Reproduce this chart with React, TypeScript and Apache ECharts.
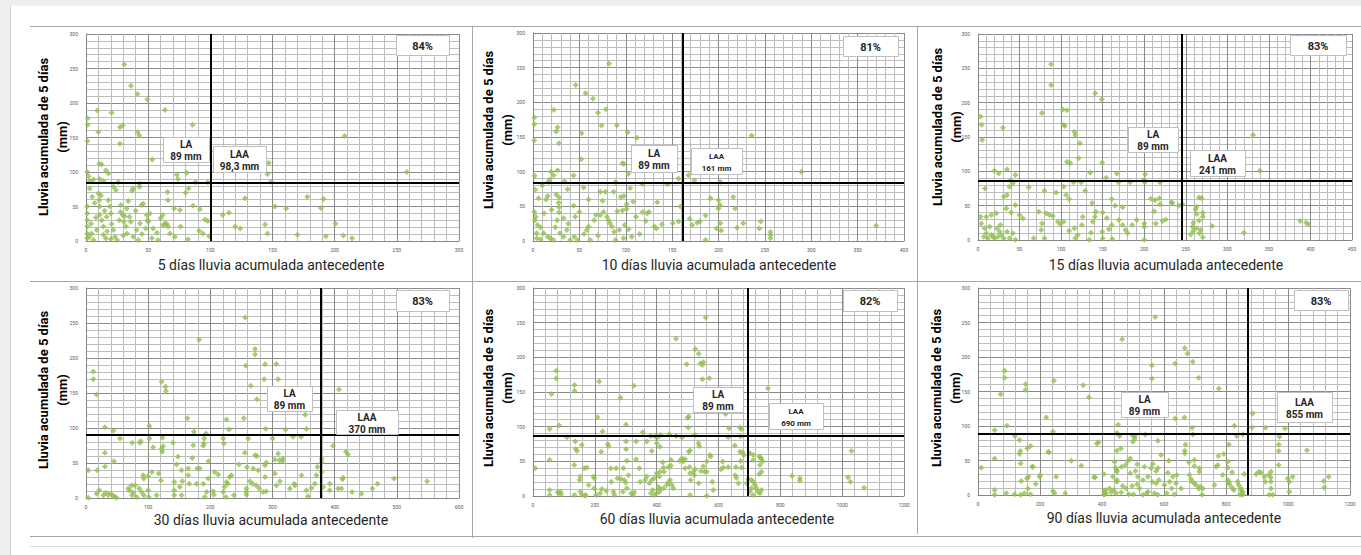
import React, { useEffect, useRef } from "react";
import * as echarts from "echarts";

// ---------- data ----------
const xTitles = [
  "5 días lluvia acumulada antecedente",
  "10 días lluvia acumulada antecedente",
  "15 días lluvia acumulada antecedente",
  "30 días lluvia acumulada antecedente",
  "60 días lluvia acumulada antecedente",
  "90 días lluvia acumulada antecedente",
];
const yTitle = "Lluvia acumulada de 5 días\n(mm)";
const percentLabels = ["84%", "81%", "83%", "83%", "82%", "83%"];
const laLabel = "LA\n89 mm";
const laaLabels = ["LAA\n98,3 mm", "LAA\n161 mm", "LAA\n241 mm", "LAA\n370 mm", "LAA\n690 mm", "LAA\n855 mm"];
const xMax = [300, 400, 450, 600, 1200, 1200];
const xStep = [50, 50, 50, 100, 200, 200];
const yMax = 300;
const yStep = 50;
const vLineAt = [100, 161, 245, 377, 693, 871];
const hLineAt = [84, 84, 86, 90, 87, 89];

const p1 = [[30.8,255.7],[36.2,225],[41.3,213],[49.3,205],[63.5,190],[9.1,189],[20.6,186],[1.3,178],[1.3,168.5],[27.3,165],[29.5,167.5],[41.5,158],[42.9,153],[9.9,158],[85.7,168.5],[1.1,145],[27.3,141],[53.3,118],[208,152],[258,100],[147,113],[146,97],[149,86],[10.7,112],[12.6,111],[16,102.5],[18,98],[1,100],[2,94],[6,89],[14,87],[22,78.5],[26,85],[37,73],[38,76],[43,78.5],[43,83],[73,96],[81,99],[74,90],[88,85],[98,85],[82.5,76],[80,70],[65.6,71],[66,59],[71,47],[86,51],[91.6,46],[76,21],[91,15],[94,11],[82,2.4],[95.6,31],[98,29],[99,7],[128,62],[110,37.6],[115,41],[120,21],[124,18],[144,24],[146,11],[152,50],[161,47],[170,9],[178,64],[191,61],[189,48],[193,7],[200.6,25],[207,8],[214,4],[1,50],[1,40],[1,30],[1,21],[1,11],[1,4],[2.7,6],[4.5,11],[6,1.5],[8.6,16],[10,69],[10.7,59],[11,50],[11,38],[12.6,30],[14,21],[14,9],[16,4],[16.6,35],[18,59],[19,50],[20.6,24.5],[22,16],[23.3,6],[25,1.5],[26.8,30],[27.9,42],[29.5,37.6],[30.5,28],[32,21],[33,11],[35,35],[38,6],[40.7,16],[42,1.5],[43.4,25.5],[44.7,52],[46,54],[48,18],[49.6,30],[51.4,40],[53,4],[54,18],[58,1.5],[61.6,37.6],[62,23],[63.5,25.5],[65,24.5],[66,21],[67.5,11],[75.5,45],[71.5,6],[48.8,37.6],[32.7,47],[24,74],[3,76],[5,64],[7,55],[12,66],[15,44],[20,40],[28,52],[34,58],[36,28],[4,25],[8,34],[17,14],[30,8],[45,10],[57,12],[60,33],[20,3],[11,90],[3,87],[40,44],[50,28],[31,36]];

const p2 = [[82,255.7],[46,225],[56.7,213],[64.6,205],[70,185],[78.6,190],[22.6,189],[1.4,178],[1.4,168.5],[73.9,166.6],[90.4,167],[26.5,164],[25,158],[52.4,155.5],[102,157],[112,149],[28,141],[1.4,145],[52,118],[235.7,152],[289.5,100],[96.5,112],[98,111],[103,97],[19.4,100],[22.2,95],[26.5,102],[1.8,94],[43.8,94.4],[16.5,85],[18,89],[156.8,90],[167.6,95],[174,87.6],[202,85],[145,82],[89,85],[118,82],[54.5,77],[37.3,74.6],[2.5,74],[16,65],[25,67],[28,63],[72.5,71],[78,71],[87,71],[94.7,63.5],[98,65],[104.7,76],[6,61.6],[27.6,55],[28,48.6],[28,41],[43.8,51],[75,58],[101,53],[108,57],[134,56],[118,42],[123,40],[125,42],[121.6,29],[131,21],[133,18],[139,24],[150.7,25.5],[159,49.6],[157,28],[169,32],[171.5,23],[177,26.5],[180,28],[186,36.6],[191.5,61.6],[200,59],[200,47],[201.6,52],[202,25.5],[198,18],[203,15],[216,63.5],[218,47],[220,19],[226.7,25.5],[244,18],[245.6,28],[256,13],[256,8.7],[256,3.9],[370,22],[186,1.4],[1.4,42],[3,35],[5,23],[4,11],[4,4],[8,2.4],[11.5,11],[16,6],[18.6,4],[22,1.4],[29,11],[33,6],[36.6,16],[40,1.4],[44.5,6],[48,1.4],[26,30],[33,32.7],[45.5,35],[50,42],[58,16],[60,21],[61.7,1.4],[66,30],[68,37.6],[72.5,37.6],[76,42],[79.6,35],[81.4,30],[83,25.5],[85,21],[87.5,13.5],[89,1.4],[93,16],[97.6,3.9],[99,23],[103,17],[106.5,6],[111,35],[91,43],[96.5,44],[101,46],[2,30],[8,20],[12,40],[20,45],[24,20],[10,80],[14,60],[38,25],[55,10],[70,8],[115,10],[60,60],[34,86]];

const p3 = [[88,256],[88,225.7],[141,213.6],[149,205],[77,185],[102,190],[107,189],[3,180],[4.4,168],[30,163.6],[103,168],[104.6,166],[116,157.7],[117,153],[5,145.6],[122.6,140.8],[121,119],[331,153],[339,101],[107,114],[111,111.6],[149.5,113],[135,98],[154,90.8],[167,97],[201,95.6],[19.6,101],[25,97],[35,103],[45,94.7],[8.4,75],[39,87],[42,82.5],[38,77.7],[35,65.5],[31,63],[61,76.7],[80,71.8],[94,69],[103,77.7],[106,65.5],[109.6,59.7],[115,84],[124,84],[129,71.8],[169,84],[183,84],[200.6,84],[219,84],[200,88],[137.4,54],[161,59.7],[165,50],[174,47.6],[213,58],[218,60.7],[219,52],[233.6,54],[241.6,50],[266,62],[269,60.7],[261.7,44.7],[263,48.5],[270.5,39.8],[270.5,34],[258,19.4],[263,17],[259,13],[266.5,9.7],[270.5,3.9],[281.7,20.4],[319.8,10.7],[387.5,27.7],[394.7,25],[397.5,22.8],[222,27.7],[214,24],[200,24],[200,19.4],[200,0.5],[191,29],[185.5,21.8],[169.5,29],[161,21.8],[157.5,15.5],[149.5,12],[150,2.4],[161.5,1.5],[177.5,14.6],[180,9.7],[136,10.7],[134,0.5],[138,26.7],[140.6,34],[142,41],[126,34],[125,21.8],[116,17],[120,7.3],[117,2.4],[109.6,13.6],[103,26.7],[99,23.3],[96,26.7],[90,35],[86,36.4],[82,38.8],[77,24],[76,14.6],[80,2.4],[73,41],[67,2.4],[54,31.5],[50,36.4],[45,51],[34,46],[22,38.8],[16,36.4],[10,34],[3,34],[4,24],[8,17],[10,9.7],[12,2.4],[16,7.3],[20,2.4],[24,4.9],[28,7.3],[31,2.4],[35,12],[38,2.4],[42,9.7],[45,0.5],[27,21.8],[23,17],[14,19.4],[7,4.9],[263,38],[266,28],[259,25],[268,15],[256,8],[246,52],[226,30],[233,55],[150,40],[155,32],[174,22],[208,60],[212,42],[40,40],[18,5],[26,12]];

const p4 = [[256,258],[182,226],[272,213],[272,205],[257,189],[288,191],[306,191.5],[11.8,180.6],[11.8,169.6],[17,148],[121.6,166],[128,159],[128.6,153],[265,160.5],[286.5,169.6],[309,169.6],[275,141],[407,155],[352.5,119],[254,114],[163,114],[226,112],[102,103],[30.5,101],[44,96],[123,86],[102,85],[190,85],[193,92],[173.6,94.6],[230,98],[289,99],[321,98],[354.6,98.4],[261,85],[300,85],[333,87.4],[346,87.4],[220.7,85],[221.8,78],[188.6,74.5],[189.6,78],[172.5,75.5],[108,72.6],[86.8,78.8],[88,81],[74.5,78.8],[54.6,85],[124,74],[122.7,66],[121.6,70],[140,78.8],[397.5,74.5],[418,66],[421.5,62],[309,63.5],[311,54],[316.7,56],[316,52.5],[303.7,55],[272,61],[275,60],[269,42],[277,39.6],[290,50.6],[288,46.8],[255.5,64.5],[259,44],[246,47.8],[197,52.5],[171,57],[148,58.8],[30.5,64.5],[45,52.5],[30.5,45],[3.7,39.6],[18,39.6],[145.7,47.8],[153.7,39.6],[164.5,42],[179,42],[183,42],[207,37],[212.6,33.4],[231,30],[164.5,32.5],[196.6,27.7],[188.6,20.5],[177.8,20.5],[166,20.5],[155,24],[151,15.8],[142,23],[142,11],[142,3.8],[153.7,3.8],[120.5,25],[116.8,35],[106,37],[100,31],[92,32.5],[93,27.7],[85.7,13.4],[78.7,18],[76,7.6],[70,11],[74,3.8],[89.5,8.6],[93,3.8],[100,11],[101,1.4],[113.6,3.8],[191,1.4],[194,8.6],[204.6,9.6],[205.7,4.8],[220.7,8.6],[223,15.8],[226,23],[228,20.5],[234,32.5],[238,3.8],[225,1.4],[258,13.4],[258,8.6],[258,4.8],[263.6,24],[268,20.5],[274,18],[278.6,13.4],[285,8.6],[290,9.6],[288,30],[303.7,35],[306.4,18],[312,24],[328,13.4],[335,20.5],[336,18],[346.6,32.5],[354.6,11],[357,2.4],[362.7,14.3],[368,20.5],[370.7,32.5],[372.4,44.4],[379,56],[379,51.6],[379,37],[381.4,15.8],[392,11],[392,20.5],[405.5,13.4],[411,13.4],[413.6,29],[412.5,26.8],[428,8.6],[443,6.2],[460.7,13.4],[468.7,20.5],[495.5,27.7],[548.6,24],[3.7,0.5],[17,6],[21.4,11],[28,3.8],[32,7.6],[36,3.8],[40,6],[44,2.9],[49,0.5],[68,13.4],[73.4,18],[81.4,1.4],[46.6,1.4]];

const p5 = [[558.6,257.6],[462.8,226.8],[525,212],[536,205],[547.8,189],[542,191.6],[551,193],[497,190],[570,170],[548,168.5],[75.3,180.6],[75.3,170],[60,147],[134.5,160],[134.5,151.7],[214,165],[326,159],[283,141.6],[760,155.5],[623,118.4],[503.7,114.6],[500,113],[208.8,113.6],[301,103],[53.8,96.8],[85,101.6],[502.6,98.7],[634,97.7],[669.4,98.7],[673.7,96.8],[225,93],[355,92],[413,88],[441,89],[463,86.7],[482,84.3],[524,88],[631.6,84.7],[671.6,85.7],[136.7,78.5],[110,84.7],[158,73.7],[138,67.9],[142.5,65],[220.6,64],[242,75],[301,78.5],[301,67.4],[333.6,78.5],[368,78.5],[381,86.7],[395,85.7],[403.6,84.7],[384,65],[400,76],[410.5,71],[244,72],[535,76],[538,72],[572.5,59],[574.6,56.8],[503.7,64],[508,65.5],[446.6,52],[482,54.4],[475,51],[613.4,49.6],[653,72.7],[671.6,50.5],[674.8,41],[669.4,64],[678,62.6],[682,59],[701.7,61.6],[712.4,59],[712.4,52],[731.8,56.8],[736,55.4],[739,53],[734,44.8],[742.5,49.6],[739,35],[731.8,31.8],[1030,65],[1019,27],[1026.7,20.7],[1071,12],[838,28.9],[863,25.5],[863,22],[615.5,41],[608,38.5],[631.6,42],[656.5,42],[654,30],[658,26.5],[664,18.3],[691,18.3],[696,24.5],[707,23],[712,20.7],[718,16],[723,11],[728,6.3],[734,3.9],[739,8.7],[701.7,6.3],[707,11],[712,1.4],[580,20.7],[562,35],[555,35],[543,36],[525,38.5],[508,32.7],[518.7,35],[510,23],[536,18.3],[522,30],[492,40],[486,49.6],[492,53],[506,42],[551,43],[562,49.6],[562,0.5],[508,1.4],[454,11],[449,16],[438,19.7],[443.5,23],[432.6,16],[422,11],[411,9.6],[405.7,13.5],[400,3.9],[409,6.3],[393,1.4],[387.4,8.7],[381,3.9],[376.7,18.3],[384,23],[392,25.5],[400,32.7],[409,28],[368,28],[362.7,23],[346.5,20.7],[344,40],[419.7,48.6],[422,41],[411,35],[424,35],[438,42],[446,43.8],[333.6,53],[303.5,51],[292.7,40],[269,40],[252,40],[273,25.5],[284,24.5],[295,23],[300,19.3],[309,30],[303.5,11],[290.6,6.3],[317.5,3.9],[323,1.4],[328,5.3],[253,20.7],[260,6.3],[263.7,1.4],[236.8,7.2],[222.8,10],[217.4,3.9],[204.5,1.4],[198,11],[196,28],[198,25.5],[180,16],[169,0.5],[153,6.3],[150.7,23],[153,28],[133.5,44.8],[165.7,40],[174,41],[170,1.4],[159,1.4],[134.5,1.4],[88,6.3],[84,3.9],[79.6,5.3],[53.8,1.4],[53.8,8.7],[53.8,52],[7.5,40],[91.5,2.4],[583,8.7]];

const p6 = [[571.5,258],[465,225.7],[667,213],[675.7,205],[693,193],[636,190.5],[561,188],[561,168.8],[712,170],[86,180],[86,170],[73,146],[153.6,160.6],[153.6,152],[245,165.4],[339.5,159],[357.7,141.8],[776.7,154.3],[220,112.4],[666,112.4],[636,111],[93.5,100.3],[53.7,94],[452,101.8],[448,90],[456.6,85.4],[827,100.3],[690.8,97.4],[886,118],[884,98],[927,97.4],[990.5,96.5],[241.7,91.6],[506,85.4],[506,82],[499.5,85.8],[540,87.8],[693,87.8],[834.7,85.4],[854,87.8],[972.3,84.4],[119,85.4],[134,79.6],[389,76.2],[383.5,74.8],[499.5,77],[580,78.6],[136.4,63.7],[134,59.3],[159,67.5],[169.7,70.9],[226.7,62.7],[448,64],[460.9,67.5],[669.3,73.3],[667,64],[667,60.3],[793,59.3],[775.6,56.4],[809,73.3],[970,73.3],[970,63.7],[970,43.4],[1061,65],[53.7,53],[137.5,45.8],[175,41],[300.8,49.7],[333,42.4],[406,30.4],[378,25.6],[590.8,57.9],[615.6,49.7],[680,47.3],[698,50.6],[698,42],[714,38.6],[714,33.8],[612.4,32.3],[580,38.6],[574.7,34.7],[558.6,38.6],[537,41],[564,44.9],[513.5,44.4],[491,53],[483.4,49.2],[476,43.4],[463,41],[443.7,39.5],[448,33.8],[448,36.2],[440.5,48.2],[435,26.5],[448,21.7],[448,19.3],[491,31.4],[508,34.7],[515.7,26.5],[532,21.7],[548,26.5],[562,19.3],[574.7,16.9],[583.3,21.7],[601.6,14.5],[617.7,19.3],[628.4,26.5],[639,16.9],[641,28.9],[655.3,9.6],[625,9.6],[633.8,1],[609,2.4],[580,0.5],[548,4.8],[544.6,2.4],[521,9.6],[497.4,13],[513.5,15.4],[478,9.6],[467,13],[462,3.9],[446,2.4],[438,7.2],[430,3.9],[424,9.6],[413.6,2.4],[408,1],[501.7,1],[486.7,1],[532,0.5],[569,2.4],[687.6,23],[682,28.9],[690.8,19.3],[698,16.9],[703.7,14.5],[712,9.6],[716.6,12],[723,0.5],[725,9.6],[762.8,14.5],[768,41],[773.5,43.4],[789.6,28.9],[805.7,48.2],[805.7,39.5],[805.7,21.7],[809,18.3],[811,15.4],[819.7,10.6],[819.7,32.8],[825,7.2],[838,19.3],[841,14.5],[848.7,9.6],[851,5.8],[854,3.9],[854,0.5],[845.5,0.5],[897,30],[906,33.8],[913,32.3],[924,26.5],[927,19.3],[938,28.9],[945,33.8],[945,25],[945,19.3],[945,9.6],[940,0.5],[951,0.5],[999,24],[1004.5,19.3],[1015,26.5],[1004.5,4.8],[1115,20.3],[1117,11],[1131,26.5],[859,30.4],[10.7,39.5],[53.7,0.5],[53.7,7.2],[91.3,2.4],[118,1],[137.5,0.5],[150,2.4],[161,9.6],[168.7,1],[139.7,20.3],[158,24],[163,26.5],[177,41],[198.7,26.5],[201,28.9],[186,16],[228.8,61.7],[241.7,5.8],[247,2.4],[252,26.5],[281.5,2.4],[374,25.6],[406,0.5],[408,4.8],[411,7.2]];

const series = [p1, p2, p3, p4, p5, p6];

// ---------- layout (positions only) ----------
const layout = [
  { grid: [86, 34, 373, 207], yT: [52.5, 137], xT: [271, 265], pct: [396, 35, 53, 20], la: [163, 137, 46, 25], laa: [213, 146, 53, 26], laaFs: 10 },
  { grid: [533, 33, 371, 208], yT: [497.5, 130], xT: [719, 265], pct: [843, 36, 55, 20], la: [631, 145, 46, 27], laa: [691, 148, 51, 26], laaFs: 8 },
  { grid: [978, 34, 374, 206], yT: [947, 127], xT: [1166, 265], pct: [1290, 35, 56, 20], la: [1128, 127, 50, 25], laa: [1190, 150, 55, 26], laaFs: 10 },
  { grid: [86, 288, 373, 210], yT: [52.5, 390], xT: [271, 520], pct: [396, 290, 53, 21], la: [267, 386, 45, 25], laa: [336, 410, 62, 24], laaFs: 10 },
  { grid: [533, 288, 371, 208], yT: [497.5, 388], xT: [717, 519], pct: [843, 290, 54, 21], la: [693, 387, 50, 25], laa: [769, 403, 54, 26], laaFs: 8 },
  { grid: [978, 288, 372, 207], yT: [946, 388], xT: [1164, 518], pct: [1294, 290, 54, 20], la: [1121, 392, 47, 25], laa: [1277, 392, 55, 30], laaFs: 10 },
];

const FONT = "Roboto, 'Open Sans', sans-serif";
const GREEN = "#92bf4f";

function boxEls(r: number[], text: string, fs: number, lh: number) {
  return [
    { type: "rect", shape: { x: r[0] + 0.5, y: r[1] + 0.5, width: r[2], height: r[3] }, style: { fill: "#fff", stroke: "#bfbfbf", lineWidth: 1 }, z: 20 },
    { type: "text", x: r[0] + r[2] / 2, y: r[1] + r[3] / 2 + 1, style: { text: text, fill: "#262626", font: `bold ${fs}px ${FONT}`, align: "center", verticalAlign: "middle", lineHeight: lh }, z: 21 },
  ];
}

export default function App() {
  const ref = useRef<HTMLDivElement>(null);
  useEffect(() => {
    if (!ref.current) return;
    const chart = echarts.init(ref.current, null, { renderer: "svg" });
    const grids: any[] = [];
    const xAxes: any[] = [];
    const yAxes: any[] = [];
    const ser: any[] = [];
    const els: any[] = [
      { type: "rect", shape: { x: 0, y: 0, width: 1361, height: 6 }, style: { fill: "#eeeeee" }, z: 0 },
      { type: "rect", shape: { x: 0, y: 0, width: 10, height: 555 }, style: { fill: "#eeeeee" }, z: 0 },
      { type: "line", shape: { x1: 10.5, y1: 6, x2: 10.5, y2: 555 }, style: { stroke: "#d4d4d4", lineWidth: 1 }, z: 1 },
      { type: "line", shape: { x1: 30, y1: 26.5, x2: 1361, y2: 26.5 }, style: { stroke: "#a6a6a6", lineWidth: 1 }, z: 1 },
      { type: "line", shape: { x1: 30, y1: 281.5, x2: 1361, y2: 281.5 }, style: { stroke: "#a6a6a6", lineWidth: 1 }, z: 1 },
      { type: "line", shape: { x1: 472.5, y1: 26, x2: 472.5, y2: 538 }, style: { stroke: "#a6a6a6", lineWidth: 1 }, z: 1 },
      { type: "line", shape: { x1: 917.5, y1: 26, x2: 917.5, y2: 534 }, style: { stroke: "#a6a6a6", lineWidth: 1 }, z: 1 },
      { type: "line", shape: { x1: 30, y1: 536.5, x2: 1361, y2: 536.5 }, style: { stroke: "#a6a6a6", lineWidth: 1 }, z: 1 },
      { type: "line", shape: { x1: 30, y1: 546.5, x2: 1361, y2: 546.5 }, style: { stroke: "#dcdcdc", lineWidth: 1 }, z: 1 },
    ];
    layout.forEach((L, i) => {
      const [gl, gt, gw, gh] = L.grid;
      grids.push({ left: gl, top: gt, width: gw, height: gh, containLabel: false });
      const axisCommon = {
        type: "value",
        gridIndex: i,
        min: 0,
        axisLine: { show: true, lineStyle: { color: "#868686", width: 1 } },
        axisTick: { show: false },
        axisLabel: { fontSize: 5, color: "#595959", fontFamily: FONT, formatter: (v: number) => String(v) },
        splitLine: { show: true, lineStyle: { color: "#8a8a8a", width: 1 } },
        minorTick: { show: false, splitNumber: 5 },
        minorSplitLine: { show: true, lineStyle: { color: "#bdbdbd", width: 1 } },
      };
      xAxes.push({ ...axisCommon, max: xMax[i], interval: xStep[i], axisLabel: { ...axisCommon.axisLabel, margin: 6 } });
      yAxes.push({ ...axisCommon, max: yMax, interval: yStep, axisLabel: { ...axisCommon.axisLabel, margin: 8 } });
      ser.push({
        type: "scatter",
        xAxisIndex: i,
        yAxisIndex: i,
        data: series[i],
        symbol: "diamond",
        symbolSize: 6,
        itemStyle: { color: GREEN },
        z: 3,
        markLine: {
          silent: true,
          symbol: "none",
          label: { show: false },
          lineStyle: { color: "#000", width: 2, type: "solid" },
          data: [{ xAxis: vLineAt[i] }, { yAxis: hLineAt[i] }],
        },
      });
      els.push({
        type: "text",
        x: L.yT[0],
        y: L.yT[1],
        rotation: Math.PI / 2,
        style: { text: yTitle, fill: "#000", font: `bold 13px ${FONT}`, align: "center", verticalAlign: "middle", lineHeight: 19 },
        z: 5,
      });
      els.push({
        type: "text",
        x: L.xT[0],
        y: L.xT[1],
        style: { text: xTitles[i], fill: "#262626", font: `14px ${FONT}`, align: "center", verticalAlign: "middle" },
        z: 5,
      });
      els.push(...boxEls(L.pct, percentLabels[i], 11, 12));
      els.push(...boxEls(L.la, laLabel, 10, 12));
      els.push(...boxEls(L.laa, laaLabels[i], L.laaFs, 12));
    });
    chart.setOption({
      animation: false,
      backgroundColor: "#ffffff",
      grid: grids,
      xAxis: xAxes,
      yAxis: yAxes,
      series: ser,
      graphic: { elements: els },
    });
    return () => chart.dispose();
  }, []);
  return <div ref={ref} style={{ position: "fixed", left: 0, top: 0, width: 1361, height: 555 }} />;
}
